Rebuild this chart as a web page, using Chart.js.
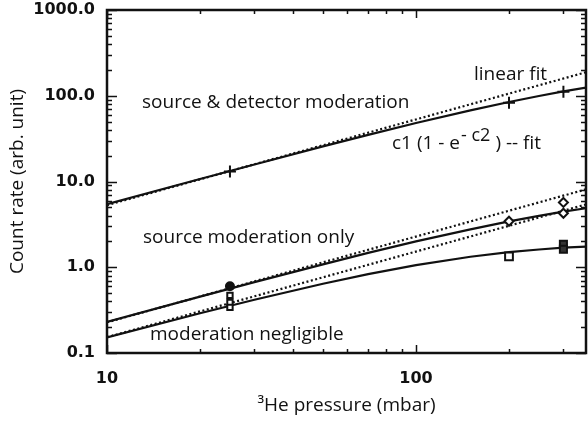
<!DOCTYPE html>
<html>
<head>
<meta charset="utf-8">
<script src="https://cdn.jsdelivr.net/npm/chart.js@4/dist/chart.umd.min.js"></script>
<style>
  html, body { margin: 0; padding: 0; background: #fff; }
  #wrap { width: 588px; height: 422px; }
</style>
</head>
<body>
<div id="wrap"><canvas id="countChart" width="588" height="422"></canvas></div>
<script>
const fitPressure = [10, 20, 30, 50, 70, 100, 150, 200, 250, 300, 355];
const sourceDetectorFit = [5.43, 10.7, 15.8, 25.7, 35.0, 48.1, 67.6, 84.6, 99.4, 112.4, 124.6];
const sourceOnlyFit = [0.231, 0.455, 0.671, 1.08, 1.47, 2.0, 2.77, 3.43, 3.98, 4.45, 4.88];
const negligibleFit = [0.152, 0.291, 0.418, 0.642, 0.83, 1.057, 1.326, 1.5, 1.61, 1.69, 1.74];

// straight "linear fit" lines (dotted)
const linearPressure = [10, 355];
const sourceDetectorLinear = [5.3, 188];
const sourceOnlyLinear = [0.228, 8.1];
const negligibleLinear = [0.153, 5.4];

// measured points
const sourceDetectorX = [25, 200, 300];
const sourceDetectorY = [13.1, 83, 111];
const sourceOnlyX = [25, 200, 300, 300];
const sourceOnlyY = [0.6, 3.44, 4.26, 5.7];
const negligibleX = [25, 25, 25, 200, 300, 300];
const negligibleY = [0.47, 0.39, 0.34, 1.34, 1.85, 1.62];

// axis labels
const xTicks = [10, 100];
const yTicks = [0.1, 1, 10, 100, 1000];

const pairs = (xs, ys) => xs.map((x, i) => ({ x: x, y: ys[i] }));

const solid = (data) => ({
  data: data, borderColor: "#111", borderWidth: 2.2, pointRadius: 0, fill: false, order: 2,
});
const dotted = (data) => ({
  data: data, borderColor: "#111", borderWidth: 2.2, borderDash: [2, 2.5], pointRadius: 0, fill: false, order: 3,
});
const marks = (data, style, radius, fillColors) => ({
  data: data, showLine: false, pointStyle: style, pointRadius: radius, pointHoverRadius: radius,
  pointBorderColor: "#111", pointBorderWidth: 2, pointBackgroundColor: fillColors, order: 1,
});

// frame with inward ticks on all four sides, IDL style
const frameTicks = {
  id: "frameTicks",
  afterDatasetsDraw(chart) {
    const { ctx, chartArea: a, scales } = chart;
    ctx.save();
    ctx.strokeStyle = "#111";
    ctx.lineWidth = 1.5;
    ctx.beginPath();
    for (let e = -1; e <= 3; e++) {
      for (let k = 1; k <= 9; k++) {
        const v = k * Math.pow(10, e);
        if (v < 0.1 || v > 1000) continue;
        const py = Math.round(scales.y.getPixelForValue(v)) + 0.5;
        const len = k === 1 ? 10 : 5;
        ctx.moveTo(a.left, py); ctx.lineTo(a.left + len, py);
        ctx.moveTo(a.right, py); ctx.lineTo(a.right - len, py);
      }
    }
    for (let e = 1; e <= 2; e++) {
      for (let k = 1; k <= 9; k++) {
        const v = k * Math.pow(10, e);
        if (v < 10 || v > scales.x.max) continue;
        const px = Math.round(scales.x.getPixelForValue(v)) + 0.5;
        const len = k === 1 ? 8 : 4;
        ctx.moveTo(px, a.bottom); ctx.lineTo(px, a.bottom - len);
        ctx.moveTo(px, a.top); ctx.lineTo(px, a.top + len);
      }
    }
    ctx.stroke();
    ctx.lineWidth = 2.5;
    ctx.strokeRect(a.left, a.top, a.right - a.left, a.bottom - a.top);
    ctx.restore();
  },
};

// curve labels written inside the plot
const curveLabels = {
  id: "curveLabels",
  afterDraw(chart) {
    const ctx = chart.ctx;
    ctx.save();
    ctx.fillStyle = "#111";
    ctx.textBaseline = "alphabetic";
    ctx.font = "19px 'Open Sans'";
    ctx.fillText("source & detector moderation", 142, 108);
    ctx.fillText("linear fit", 474, 80);
    ctx.fillText("source moderation only", 143, 243);
    ctx.fillText("moderation negligible", 150, 340);
    let x = 392;
    const part1 = "c1 (1 - e";
    ctx.fillText(part1, x, 149);
    x += ctx.measureText(part1).width + 1;
    ctx.font = "18px 'Open Sans'";
    const sup = "- c2";
    ctx.fillText(sup, x, 141);
    x += ctx.measureText(sup).width + 5;
    ctx.font = "19px 'Open Sans'";
    ctx.fillText(") -- fit", x, 149);
    ctx.restore();
  },
};

new Chart(document.getElementById("countChart").getContext("2d"), {
  type: "line",
  data: {
    datasets: [
      solid(pairs(fitPressure, sourceDetectorFit)),
      dotted(pairs(linearPressure, sourceDetectorLinear)),
      solid(pairs(fitPressure, sourceOnlyFit)),
      dotted(pairs(linearPressure, sourceOnlyLinear)),
      solid(pairs(fitPressure, negligibleFit)),
      dotted(pairs(linearPressure, negligibleLinear)),
      marks(pairs(sourceDetectorX, sourceDetectorY), "cross", 6, "#111"),
      marks(pairs(sourceOnlyX, sourceOnlyY), ["circle", "rectRot", "rectRot", "rectRot"], [4, 4.5, 4.5, 4.5],
        ["#111", "#fff", "#fff", "#fff"]),
      marks(pairs(negligibleX, negligibleY), "rect", [3.8, 3.8, 3.8, 5.5, 5, 5],
        ["#fff", "#fff", "#fff", "#fff", "#333", "#333"]),
    ],
  },
  options: {
    responsive: false,
    animation: false,
    layout: { padding: 0, autoPadding: false },
    plugins: { legend: { display: false }, tooltip: { enabled: false } },
    scales: {
      x: {
        type: "logarithmic",
        min: 10,
        max: 355,
        afterBuildTicks: (s) => { s.ticks = xTicks.map((v) => ({ value: v })); },
        afterFit: (s) => { s.height = 69; s.paddingLeft = 0; s.paddingRight = 2; },
        grid: { display: false, drawTicks: false },
        border: { display: false },
        ticks: {
          padding: 16,
          color: "#111",
          font: { family: "'DejaVu Sans'", size: 16, weight: "bold" },
          maxRotation: 0,
          callback: (v) => String(v),
        },
        title: {
          display: true,
          text: "³He pressure (mbar)",
          color: "#111",
          font: { family: "'Open Sans'", size: 19 },
          padding: { top: 0, bottom: 5 },
        },
      },
      y: {
        type: "logarithmic",
        min: 0.1,
        max: 1000,
        afterBuildTicks: (s) => { s.ticks = yTicks.map((v) => ({ value: v })); },
        afterFit: (s) => { s.width = 107; s.paddingTop = 10; s.paddingBottom = 0; },
        grid: { display: false, drawTicks: false },
        border: { display: false },
        ticks: {
          padding: 12,
          color: "#111",
          font: { family: "'DejaVu Sans'", size: 16, weight: "bold" },
          callback: (v) => Number(v).toFixed(1),
        },
        title: {
          display: true,
          text: "Count rate (arb. unit)",
          color: "#111",
          font: { family: "'Open Sans'", size: 19 },
          padding: { top: 6, bottom: 0 },
        },
      },
    },
  },
  plugins: [frameTicks, curveLabels],
});
</script>
</body>
</html>
